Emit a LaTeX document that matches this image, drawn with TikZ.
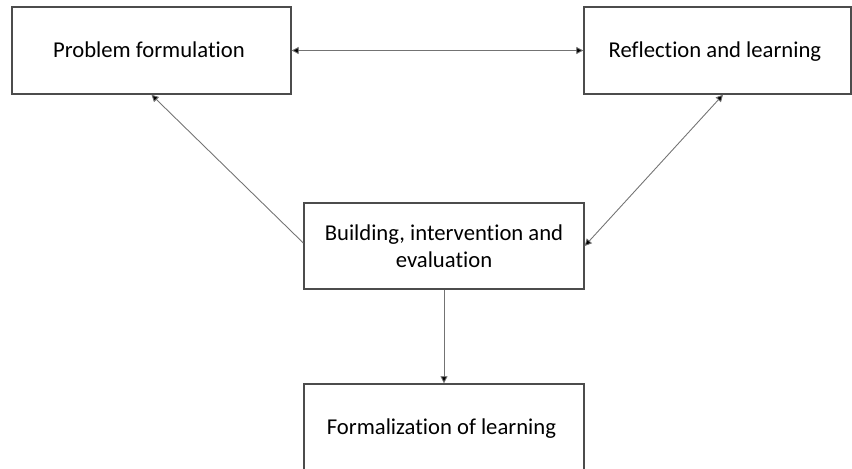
\documentclass[tikz,border=0pt]{standalone}
\usepackage{fontspec}
\setmainfont{Carlito}[RawFeature={-liga}]
\usepackage{tikz}
\usetikzlibrary{arrows.meta}
\tikzstyle{whitebox}=[rectangle,draw=black!70,fill=white,line width=0.8pt,
                      font=\fontsize{12.9}{15.5}\selectfont,inner sep=2pt,align=center,
                      text height=1.8ex,text depth=0.2ex]
\tikzstyle{link}=[draw=black!55,line width=0.5pt]
\tikzstyle{tip}=[-{Triangle[length=4pt,width=4pt,fill=black]}]
\tikzstyle{twotips}=[{Triangle[length=4pt,width=4pt,fill=black]}-{Triangle[length=4pt,width=4pt,fill=black]}]
\newcommand\boxlabel[2]{#1\\#2}

\begin{document}
\begin{tikzpicture}[x=0.02cm,y=-0.02cm]
    \useasboundingbox (0,0) rectangle (852,468);
    \clip (0,0) rectangle (852,468);
    	\node [whitebox,minimum width=5.58cm,minimum height=1.74cm] (problem) at (151.5,50.5) {
    		Problem formulation
    	};
    	\node [whitebox,minimum width=5.34cm,minimum height=1.74cm] (reflection) at (717.5,50.5) {
    		Reflection and learning
    	};
    	\node [whitebox,minimum width=5.6cm,minimum height=1.72cm,text height=,text depth=] (building) at (444,246) {
    		\boxlabel{Building, intervention and}{evaluation}
    	};
    	\node [whitebox,minimum width=5.6cm,minimum height=1.76cm] (formalization) at (444,428) {
    		Formalization of learning
    	};
    	% connectors
    	\draw [link,twotips] (problem.east) -- (reflection.west);
    	\draw [link,tip] ([yshift=0.06cm]building.west) -- (problem.south);
    	\draw [link,twotips] ([xshift=0.11cm]reflection.south) -- (building.east);
    	\draw [link,tip] (building.south) -- (formalization.north);
    \end{tikzpicture}
\end{document}
